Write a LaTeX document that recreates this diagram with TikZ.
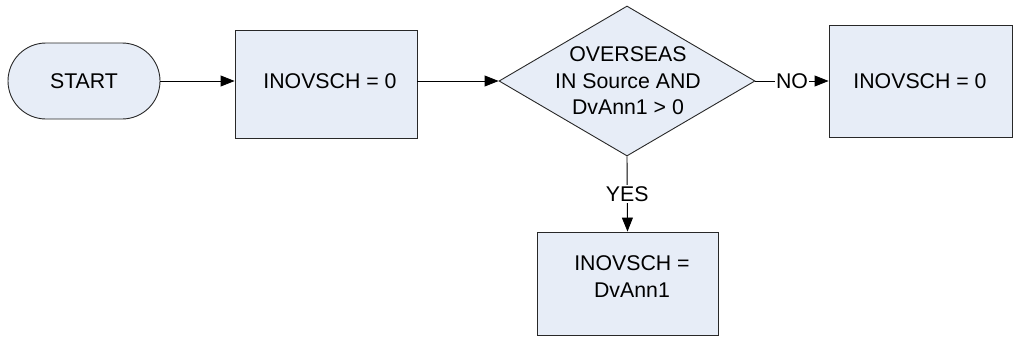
\documentclass[tikz,border=0pt]{standalone}
\usepackage{fontspec}
\setmainfont{Liberation Sans}
\usetikzlibrary{shapes.geometric,shapes.misc,arrows.meta}
\definecolor{boxfill}{RGB}{231,237,247}
\definecolor{edge}{RGB}{40,40,40}
\begin{document}
\begin{tikzpicture}[x=1pt,y=-1pt,
  font=\fontsize{21.3}{26.5}\selectfont,
  shapebase/.style={draw=edge, fill=boxfill, line width=0.9pt, inner sep=0pt},
  procbox/.style={shapebase, rectangle},
  termbox/.style={shapebase, rounded rectangle, minimum width=152pt, minimum height=76pt},
  decbox/.style={shapebase, diamond, minimum width=256pt, minimum height=150pt},
  conn/.style={line width=0.9pt, draw=black, -{Triangle[length=14pt,width=11pt]}},
  lab/.style={fill=white, inner sep=1pt}]
\useasboundingbox (0,0) rectangle (1020,346);

\node[termbox] (start) at (84,81) {START};
\node[procbox, minimum width=182pt, minimum height=108pt] (b1) at (326,84) {};
\node (b1text) at (330,81) {INOVSCH = 0};
\node[decbox] (dec) at (627,81) {};
\node[align=center] (dectext) at (628,81) {OVERSEAS\\IN Source AND\\DvAnn1 > 0};
\node[procbox, minimum width=183pt, minimum height=112pt] (b3) at (920.5,81) {};
\node (b3text) at (920,81) {INOVSCH = 0};
\node[procbox, minimum width=181pt, minimum height=103pt] (b4) at (627.5,283.5) {};
\node[align=center] (b4text) at (632,276.5) {INOVSCH =\\DvAnn1};

\draw[conn] (start.east) -- (start.east -| b1.west);
\draw[conn] (b1.east |- dec.west) -- (dec.west);
\draw[conn] (dec.east) -- node[lab] {NO} (dec.east -| b3.west);
\draw[conn] (dec.south) -- node[lab] {YES} (b4.north);
\end{tikzpicture}
\end{document}
